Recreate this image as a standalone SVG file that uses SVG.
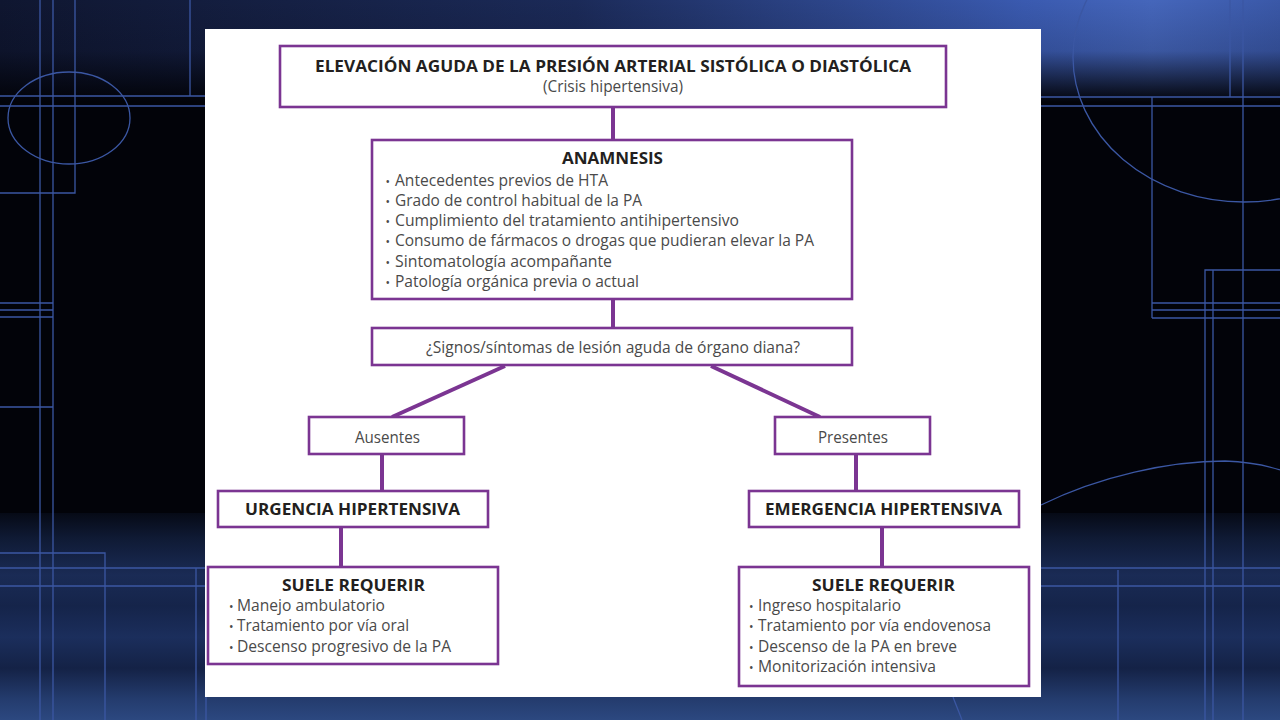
<svg xmlns="http://www.w3.org/2000/svg" width="1280" height="720" viewBox="0 0 1280 720">
<defs>
<linearGradient id="topH" x1="0" y1="0" x2="1" y2="0">
<stop offset="0" stop-color="#0f1630"/>
<stop offset="0.45" stop-color="#1b2a58"/>
<stop offset="0.8" stop-color="#3a5ab0"/>
<stop offset="0.9" stop-color="#4566bb"/>
<stop offset="1" stop-color="#3a58a8"/>
</linearGradient>
<linearGradient id="topV" x1="0" y1="0" x2="0" y2="1">
<stop offset="0" stop-color="#020309" stop-opacity="0"/>
<stop offset="0.5" stop-color="#020309" stop-opacity="0.15"/>
<stop offset="0.85" stop-color="#020309" stop-opacity="0.75"/>
<stop offset="1" stop-color="#020309" stop-opacity="1"/>
</linearGradient>
<linearGradient id="botV" x1="0" y1="513" x2="0" y2="720" gradientUnits="userSpaceOnUse">
<stop offset="0" stop-color="#060a16"/>
<stop offset="0.12" stop-color="#0f1a34"/>
<stop offset="0.3" stop-color="#1a2b55"/>
<stop offset="0.45" stop-color="#15244a"/>
<stop offset="0.6" stop-color="#1b2e5c"/>
<stop offset="0.75" stop-color="#142246"/>
<stop offset="0.9" stop-color="#243c6e"/>
<stop offset="1" stop-color="#2c4880"/>
</linearGradient>
<style>
.bg{fill:none;stroke:#3b57a3;stroke-width:1.3}
.box{fill:#ffffff;stroke:#7b3592;stroke-width:2.6}
.con{stroke:#7b3592;stroke-width:4;fill:none}
.h{font-family:"Open Sans","Liberation Sans",sans-serif;font-weight:700;font-size:16.5px;fill:#231f20}
.t{font-family:"Open Sans","Liberation Sans",sans-serif;font-weight:400;font-size:16px;fill:#4a4a4a}
.b{font-family:"Open Sans","Liberation Sans",sans-serif;font-size:12px;fill:#4a4a4a}
</style>
</defs>
<g id="background">
<rect x="0" y="0" width="1280" height="720" fill="#020309"/>
<rect x="0" y="0" width="1280" height="102" fill="url(#topH)"/>
<rect x="0" y="0" width="1280" height="102" fill="url(#topV)"/>
<rect x="0" y="513" width="1280" height="207" fill="url(#botV)"/>
<line class="bg" x1="40" y1="0" x2="40" y2="720"/>
<line class="bg" x1="53" y1="0" x2="53" y2="720"/>
<polyline class="bg" points="75,0 75,193 0,193"/>
<line class="bg" x1="190" y1="0" x2="190" y2="96"/>
<line class="bg" x1="0" y1="96" x2="205" y2="96"/>
<line class="bg" x1="0" y1="106" x2="205" y2="106"/>
<ellipse class="bg" cx="69" cy="118" rx="61" ry="46"/>
<line class="bg" x1="0" y1="303" x2="53" y2="303"/>
<line class="bg" x1="0" y1="310" x2="53" y2="310"/>
<line class="bg" x1="0" y1="317" x2="53" y2="317"/>
<line class="bg" x1="0" y1="407" x2="53" y2="407"/>
<polyline class="bg" points="0,553 105,553 105,720"/>
<line class="bg" x1="0" y1="568" x2="205" y2="568"/>
<line class="bg" x1="0" y1="586" x2="205" y2="586"/>
<line class="bg" x1="196" y1="568" x2="196" y2="720"/>
<line class="bg" x1="206" y1="568" x2="206" y2="720"/>
<line class="bg" x1="1041" y1="97" x2="1280" y2="97"/>
<line class="bg" x1="1041" y1="106" x2="1280" y2="106"/>
<line class="bg" x1="1152" y1="97" x2="1152" y2="318"/>
<line class="bg" x1="1230" y1="0" x2="1230" y2="97"/>
<line class="bg" x1="1243" y1="0" x2="1243" y2="720"/>
<line class="bg" x1="1152" y1="303" x2="1280" y2="303"/>
<line class="bg" x1="1152" y1="310" x2="1280" y2="310"/>
<line class="bg" x1="1152" y1="318" x2="1280" y2="318"/>
<polyline class="bg" points="1205,720 1205,270 1280,270"/>
<line class="bg" x1="1213" y1="270" x2="1213" y2="720"/>
<ellipse class="bg" cx="1244" cy="57" rx="171" ry="145"/>
<path class="bg" d="M1041,505 C1100,476 1170,461 1225,461 C1250,462 1268,466 1280,470"/>
<line class="bg" x1="1041" y1="568" x2="1280" y2="568"/>
<line class="bg" x1="1041" y1="586" x2="1280" y2="586"/>
<line class="bg" x1="1118" y1="570" x2="1118" y2="720"/>
<path class="bg" d="M953,697 C956,705 959,712 962,720"/>
</g>
<rect id="panel" x="205" y="29" width="836" height="668" fill="#ffffff"/>
<g id="connectors">
<line class="con" x1="613" y1="107" x2="613" y2="140"/>
<line class="con" x1="613" y1="299" x2="613" y2="328"/>
<line class="con" x1="505" y1="366" x2="392" y2="417"/>
<line class="con" x1="711" y1="366" x2="820" y2="417"/>
<line class="con" x1="382" y1="454" x2="382" y2="491"/>
<line class="con" x1="856" y1="454" x2="856" y2="491"/>
<line class="con" x1="341" y1="527" x2="341" y2="567"/>
<line class="con" x1="882" y1="527" x2="882" y2="567"/>
</g>
<g id="n-elevacion">
<rect class="box" x="280" y="46" width="666" height="61"/>
<text class="h" x="315" y="71.5" textLength="596" lengthAdjust="spacingAndGlyphs">ELEVACIÓN AGUDA DE LA PRESIÓN ARTERIAL SISTÓLICA O DIASTÓLICA</text>
<text class="t" x="543" y="92" textLength="140" lengthAdjust="spacingAndGlyphs">(Crisis hipertensiva)</text>
</g>
<g id="n-anamnesis">
<rect class="box" x="372" y="140" width="480" height="159"/>
<text class="h" x="562" y="163.5" textLength="101" lengthAdjust="spacingAndGlyphs">ANAMNESIS</text>
<text class="b" x="385.5" y="185.5">•</text>
<text class="t" x="395" y="185.5" textLength="213" lengthAdjust="spacingAndGlyphs">Antecedentes previos de HTA</text>
<text class="b" x="385.5" y="205.8">•</text>
<text class="t" x="395" y="205.8" textLength="247" lengthAdjust="spacingAndGlyphs">Grado de control habitual de la PA</text>
<text class="b" x="385.5" y="226.1">•</text>
<text class="t" x="395" y="226.1" textLength="344" lengthAdjust="spacingAndGlyphs">Cumplimiento del tratamiento antihipertensivo</text>
<text class="b" x="385.5" y="246.4">•</text>
<text class="t" x="395" y="246.4" textLength="419" lengthAdjust="spacingAndGlyphs">Consumo de fármacos o drogas que pudieran elevar la PA</text>
<text class="b" x="385.5" y="266.7">•</text>
<text class="t" x="395" y="266.7" textLength="217" lengthAdjust="spacingAndGlyphs">Sintomatología acompañante</text>
<text class="b" x="385.5" y="287">•</text>
<text class="t" x="395" y="287" textLength="244" lengthAdjust="spacingAndGlyphs">Patología orgánica previa o actual</text>
</g>
<g id="n-pregunta">
<rect class="box" x="372" y="328" width="480" height="37"/>
<text class="t" x="426" y="353" textLength="374" lengthAdjust="spacingAndGlyphs">¿Signos/síntomas de lesión aguda de órgano diana?</text>
</g>
<g id="n-ausentes">
<rect class="box" x="309" y="417" width="155" height="37"/>
<text class="t" x="355" y="443" textLength="65" lengthAdjust="spacingAndGlyphs">Ausentes</text>
</g>
<g id="n-presentes">
<rect class="box" x="775" y="417" width="155" height="37"/>
<text class="t" x="818" y="443" textLength="70" lengthAdjust="spacingAndGlyphs">Presentes</text>
</g>
<g id="n-urgencia">
<rect class="box" x="218" y="491" width="270" height="36"/>
<text class="h" x="245" y="515" textLength="215" lengthAdjust="spacingAndGlyphs">URGENCIA HIPERTENSIVA</text>
</g>
<g id="n-emergencia">
<rect class="box" x="749" y="491" width="270" height="36"/>
<text class="h" x="765" y="515" textLength="237" lengthAdjust="spacingAndGlyphs">EMERGENCIA HIPERTENSIVA</text>
</g>
<g id="n-suele-urgencia">
<rect class="box" x="208" y="567" width="290" height="97"/>
<text class="h" x="282" y="590.5" textLength="143" lengthAdjust="spacingAndGlyphs">SUELE REQUERIR</text>
<text class="b" x="229" y="610.5">•</text>
<text class="t" x="237" y="610.5" textLength="148" lengthAdjust="spacingAndGlyphs">Manejo ambulatorio</text>
<text class="b" x="229" y="631">•</text>
<text class="t" x="237" y="631" textLength="172" lengthAdjust="spacingAndGlyphs">Tratamiento por vía oral</text>
<text class="b" x="229" y="651.5">•</text>
<text class="t" x="237" y="651.5" textLength="214" lengthAdjust="spacingAndGlyphs">Descenso progresivo de la PA</text>
</g>
<g id="n-suele-emergencia">
<rect class="box" x="739" y="567" width="290" height="119"/>
<text class="h" x="812" y="590.5" textLength="143" lengthAdjust="spacingAndGlyphs">SUELE REQUERIR</text>
<text class="b" x="749" y="610.5">•</text>
<text class="t" x="758" y="610.5" textLength="143" lengthAdjust="spacingAndGlyphs">Ingreso hospitalario</text>
<text class="b" x="749" y="631">•</text>
<text class="t" x="758" y="631" textLength="233" lengthAdjust="spacingAndGlyphs">Tratamiento por vía endovenosa</text>
<text class="b" x="749" y="651.5">•</text>
<text class="t" x="758" y="651.5" textLength="199" lengthAdjust="spacingAndGlyphs">Descenso de la PA en breve</text>
<text class="b" x="749" y="672">•</text>
<text class="t" x="758" y="672" textLength="178" lengthAdjust="spacingAndGlyphs">Monitorización intensiva</text>
</g>
</svg>
